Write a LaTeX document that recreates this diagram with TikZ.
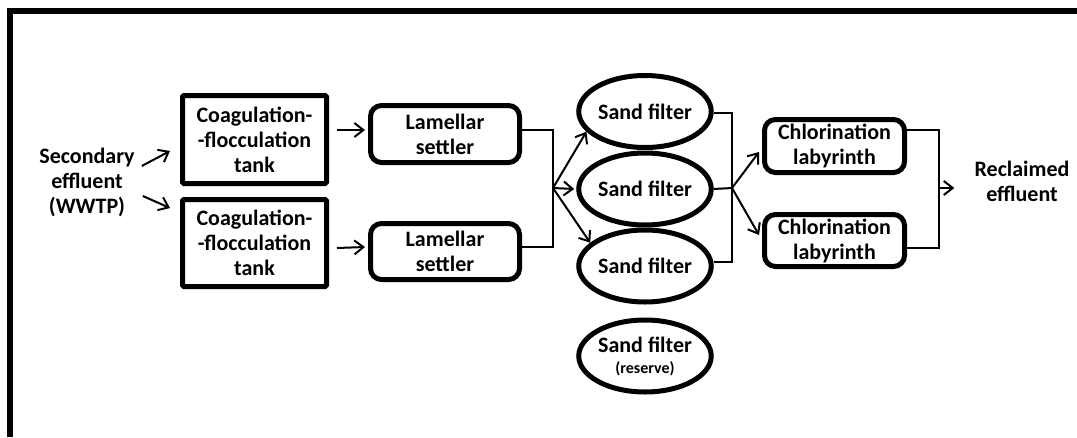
\documentclass[tikz,border=0pt]{standalone}
\usepackage{fontspec}
\setmainfont{Carlito}
\usetikzlibrary{arrows.meta,shapes.geometric}
\begin{document}
\begin{tikzpicture}[x=1pt,y=-1pt,
  every node/.style={font=\bfseries\fontsize{22}{25}\selectfont, align=center, inner sep=0pt},
  sqbox/.style={draw, line width=5pt, rounded corners=1.5pt, minimum width=144pt},
  rbox/.style={draw, line width=5pt, rounded corners=11pt},
  filt/.style={draw, ellipse, line width=5pt, minimum width=115pt, minimum height=72pt},
  conn/.style={line width=2pt},
  arr/.style={line width=2pt, -{Straight Barb[length=9pt,width=14pt]}},
  frame/.style={line width=6pt}
]
\useasboundingbox (0,0) rectangle (1077,437);
\fill[white] (0,0) rectangle (1077,437);
\draw[frame] (10,437) -- (10,10.5) -- (1077,10.5);

\node (src) at (87,182) {Secondary\\effluent\\(WWTP)};

\node[sqbox, minimum height=88pt] (c1) at (254.5,139.5) {Coagulation-\\-flocculation\\tank};
\node[sqbox, minimum height=87pt] (c2) at (254.5,243) {Coagulation-\\-flocculation\\tank};

\node[rbox, minimum width=149pt, minimum height=57pt] (l1) at (445,134) {Lamellar\\settler};
\node[rbox, minimum width=149pt, minimum height=56pt] (l2) at (445,251.5) {Lamellar\\settler};

\node[filt] (f1) at (645,111.5) {Sand filter};
\node[filt] (f2) at (645,189) {Sand filter};
\node[filt] (f3) at (645,266) {Sand filter};
\node[filt] (f4) at (645,356) {Sand filter\\[-4pt]{\fontsize{16}{18}\selectfont (reserve)}};

\node[rbox, minimum width=140pt, minimum height=53pt] (h1) at (834.5,146) {Chlorination\\labyrinth};
\node[rbox, minimum width=140pt, minimum height=52pt] (h2) at (834.5,240.5) {Chlorination\\labyrinth};

\node (out) at (1022,181) {Reclaimed\\effluent};

% inputs
\draw[arr] ([xshift=7pt,yshift=16pt]src.east) -- ([xshift=-10pt,yshift=-11.5pt]c1.west);
\draw[arr] ([xshift=8pt,yshift=-14pt]src.east) -- ([xshift=-10pt,yshift=35pt]c2.west);

% coag -> lamellar
\draw[arr] ([xshift=8pt,yshift=9.5pt]c1.east) -- ([xshift=-3pt,yshift=4pt]l1.west);
\draw[arr] ([xshift=8pt,yshift=-5pt]c2.east) -- ([xshift=-3pt,yshift=4.5pt]l2.west);

% lamellar -> filters
\coordinate (j1) at (553,188);
\draw[conn] ([yshift=4pt]l1.east) -| (j1) |- ([yshift=4.5pt]l2.east);
\draw[arr] (j1) -- (f1.199);
\draw[arr] (j1) -- ([xshift=-2pt]f2.west);
\draw[arr] (j1) -- (f3.157);

% filters -> chlorination
\coordinate (j2) at (732,188);
\draw[conn] ([yshift=-1.5pt]f1.east) -| (j2) |- ([yshift=4pt]f3.east);
\draw[conn] (f2.east) -- (j2);
\draw[arr] (j2) -- ([xshift=-3pt,yshift=-6pt]h1.west);
\draw[arr] (j2) -- ([xshift=-3pt,yshift=5.5pt]h2.west);

% chlorination -> output
\coordinate (j3) at (939,188);
\draw[conn] ([yshift=16pt]h1.east) -| (j3) |- ([yshift=-7.5pt]h2.east);
\draw[arr] (j3) -- ([xshift=-20pt]out.west |- j3);
\end{tikzpicture}
\end{document}
